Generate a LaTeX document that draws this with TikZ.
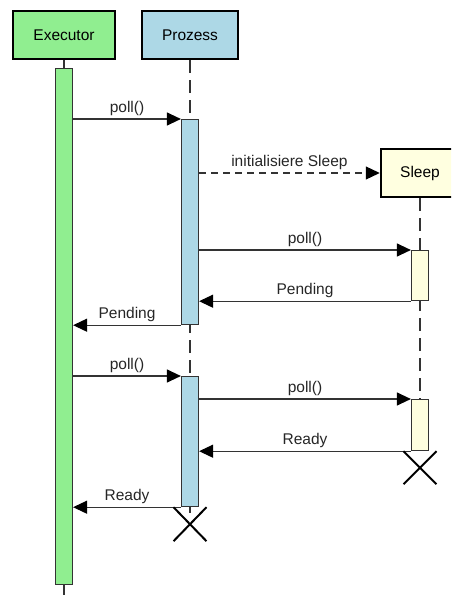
\documentclass[tikz,border=0pt]{standalone}
\usepackage{fontspec}
\setmainfont{Liberation Sans}
\usetikzlibrary{arrows.meta}

\definecolor{execgreen}{HTML}{90EE90}
\definecolor{prozblue}{HTML}{ADD8E6}
\definecolor{sleepyellow}{HTML}{FFFFE0}
\definecolor{linegray}{HTML}{333333}

\tikzset{
  head/.style={draw=black, line width=2.5pt, minimum height=48pt, inner sep=0pt},
  bar/.style={draw=linegray, line width=1.2pt, minimum width=17pt, inner sep=0pt, anchor=north},
  msg/.style={draw=linegray, line width=1.2pt, -{Triangle[length=14pt,width=13pt,color=black]}},
  lbl/.style={midway, above=1pt, inner sep=2pt, text=black!85},
  lifeline/.style={draw=linegray, line width=1.2pt, dash pattern=on 13pt off 7pt},
  kill/.style={draw=black, line width=2pt}
}

\begin{document}
\begin{tikzpicture}[x=1pt, y=-1pt]
		\fontsize{15.5}{18}\selectfont
		\clip (0,0) rectangle (451,599);
		
		% kopfboxen
		\node[head, fill=execgreen, minimum width=102pt] (exec) at (64,35) {Executor};
		\node[head, fill=prozblue, minimum width=96pt] (proz) at (190,35) {Prozess};
		\node[head, fill=sleepyellow, minimum width=78pt] (sleep) at (420,173) {Sleep};
		
		% lebenslinien
		\coordinate (execend) at (64,595);
		\coordinate (prozend) at (190,514);
		\coordinate (sleepend) at (420,458);
		\draw[draw=linegray, line width=1.2pt] (exec.south) -- (execend);
		\draw[lifeline] (proz.south) -- (prozend);
		\draw[lifeline] (sleep.south) -- (sleepend);
		
		% aktivierungen
		\node[bar, fill=execgreen, minimum height=516pt] (execbar) at (64,68) {};
		\node[bar, fill=prozblue, minimum height=205pt] (prozbar1) at (190,119) {};
		\node[bar, fill=prozblue, minimum height=130pt] (prozbar2) at (190,376) {};
		\node[bar, fill=sleepyellow, minimum height=50pt] (sleepbar1) at (420,250) {};
		\node[bar, fill=sleepyellow, minimum height=51pt] (sleepbar2) at (420,399) {};
		
		% erster durchlauf
		\draw[msg] (execbar.east |- prozbar1.north) -- (prozbar1.north west) node[lbl] {poll()};
		\draw[msg, dash pattern=on 7pt off 5pt] (prozbar1.east |- sleep.west) -- (sleep.west) node[lbl] {initialisiere Sleep};
		\draw[msg] (prozbar1.east |- sleepbar1.north) -- (sleepbar1.north west) node[lbl] {poll()};
		\draw[msg] (sleepbar1.south west) -- (prozbar1.east |- sleepbar1.south) node[lbl] {Pending};
		\draw[msg] (prozbar1.south west) -- (execbar.east |- prozbar1.south) node[lbl] {Pending};
		
		% zweiter durchlauf
		\draw[msg] (execbar.east |- prozbar2.north) -- (prozbar2.north west) node[lbl] {poll()};
		\draw[msg] (prozbar2.east |- sleepbar2.north) -- (sleepbar2.north west) node[lbl] {poll()};
		\draw[msg] (sleepbar2.south west) -- (prozbar2.east |- sleepbar2.south) node[lbl] {Ready};
		\draw[msg] (prozbar2.south west) -- (execbar.east |- prozbar2.south) node[lbl] {Ready};
		
		% ende
		\draw[kill] (prozbar2.south) ++(-16.5,0) -- ++(33,34) ++(-33,0) -- ++(33,-34);
		\draw[kill] (sleepbar2.south) ++(-16.5,0) -- ++(33,33) ++(-33,0) -- ++(33,-33);
\end{tikzpicture}
\end{document}
